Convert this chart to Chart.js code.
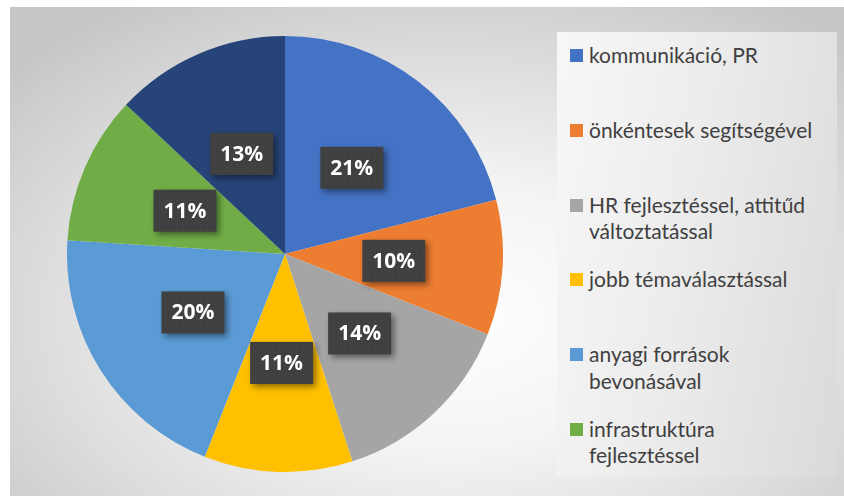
<!DOCTYPE html>
<html>
<head>
<meta charset="utf-8">
<script src="https://cdn.jsdelivr.net/npm/chart.js@4/dist/chart.umd.min.js"></script>
<style>
  html, body { margin: 0; padding: 0; background: #fff; }
  body { width: 844px; height: 496px; position: relative; overflow: hidden; }
  #frame {
    position: absolute; left: 10px; top: 7px; width: 850px; height: 500px;
    background: radial-gradient(ellipse 70% 75% at 52% 62%, #ffffff 0%, #f4f4f4 35%, #dcdcdc 70%, #c6c6c6 100%);
  }
  #pie { position: absolute; left: 67px; top: 36px; }
  #legend {
    position: absolute; left: 557px; top: 32px; width: 280px; height: 445px;
    overflow: hidden;
    background: linear-gradient(100deg, #f7f7f7 0%, #ececec 45%, #dadada 100%);
    font-family: Lato, "Open Sans", sans-serif; font-size: 21px; line-height: 26.5px; color: #404040;
  }
  .item { position: relative; height: 74.8px; padding-left: 32px; padding-right: 14px; box-sizing: border-box; }
  .item:first-child { margin-top: 10px; }
  .swatch { position: absolute; left: 13px; top: 7px; width: 13px; height: 13px; }
</style>
</head>
<body>
<div id="frame"></div>
<canvas id="pie" width="436" height="436"></canvas>
<div id="legend"></div>
<script>
const categories = [
  'kommunikáció, PR',
  'önkéntesek segítségével',
  'HR fejlesztéssel, attitűd változtatással',
  'jobb témaválasztással',
  'anyagi források bevonásával',
  'infrastruktúra fejlesztéssel',
  'egyéb'
];
const shares = [21, 10, 14, 11, 20, 11, 13];
const sliceColors = ['#4472C4', '#ED7D31', '#A5A5A5', '#FFC000', '#5B9BD5', '#70AD47', '#264478'];

// legend (html, so long labels can wrap like in the original)
const legendDiv = document.getElementById('legend');
categories.forEach((name, i) => {
  const item = document.createElement('div');
  item.className = 'item';
  item.innerHTML = `<span class="swatch" style="background:${sliceColors[i]}"></span>${name}`;
  legendDiv.appendChild(item);
});

// dotted dark fill for the value boxes
function dotPattern(ctx) {
  const c = document.createElement('canvas');
  c.width = 6; c.height = 6;
  const p = c.getContext('2d');
  p.fillStyle = '#404040';
  p.fillRect(0, 0, 6, 6);
  p.fillStyle = '#4c4c4c';
  p.fillRect(2, 2, 1, 1);
  return ctx.createPattern(c, 'repeat');
}

const valueBoxes = {
  id: 'valueBoxes',
  afterDatasetsDraw(chart) {
    const ctx = chart.ctx;
    const meta = chart.getDatasetMeta(0);
    const fill = dotPattern(ctx);
    ctx.save();
    ctx.font = 'bold 21px "Open Sans", sans-serif';
    ctx.textAlign = 'center';
    ctx.textBaseline = 'middle';
    meta.data.forEach((arc, i) => {
      const pos = arc.tooltipPosition();
      const text = shares[i] + '%';
      const w = ctx.measureText(text).width + 20;
      const h = 42;
      ctx.save();
      ctx.shadowColor = 'rgba(0,0,0,0.45)';
      ctx.shadowBlur = 6;
      ctx.shadowOffsetX = 3;
      ctx.shadowOffsetY = 3;
      ctx.fillStyle = fill;
      ctx.fillRect(pos.x - w / 2, pos.y - h / 2, w, h);
      ctx.restore();
      ctx.fillStyle = '#ffffff';
      ctx.fillText(text, pos.x, pos.y + 1);
    });
    ctx.restore();
  }
};

new Chart(document.getElementById('pie').getContext('2d'), {
  type: 'pie',
  data: {
    labels: categories,
    datasets: [{
      data: shares,
      backgroundColor: sliceColors,
      borderWidth: 0,
      hoverOffset: 0
    }]
  },
  options: {
    responsive: false,
    animation: false,
    events: [],
    layout: { padding: 0 },
    plugins: {
      legend: { display: false },
      tooltip: { enabled: false }
    }
  },
  plugins: [valueBoxes]
});
</script>
</body>
</html>
